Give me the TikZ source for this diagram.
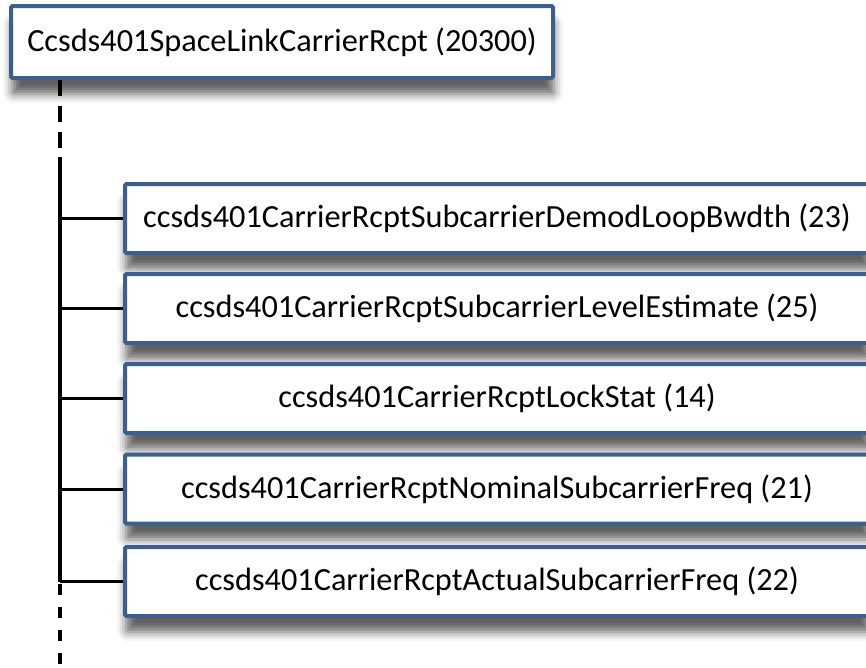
\documentclass[tikz,border=0pt]{standalone}
\usepackage{fontspec}
\setmainfont{Carlito}
\usetikzlibrary{shadows.blur}

\definecolor{boxblue}{HTML}{3B5F8E}

\tikzset{
  objbox/.style={draw=boxblue, line width=4pt, fill=white, rounded corners=1.5pt,
    inner sep=0pt, font=\fontsize{32.3}{38}\selectfont,
    blur shadow={shadow xshift=1pt, shadow yshift=-16pt, shadow blur radius=9pt, shadow opacity=62}},
  rootbox/.style={objbox, minimum width=542pt, minimum height=72pt},
  leafbox/.style={objbox, minimum width=744pt, minimum height=69pt},
  trunk/.style={line width=3.2pt, black},
  trunkdash/.style={trunk, dash pattern=on 16pt off 10pt},
  branch/.style={line width=3pt, black}
}

\begin{document}
\begin{tikzpicture}[x=1pt, y=-1pt]
  \useasboundingbox (0,0) rectangle (866,667);
  \clip (0,0) rectangle (866,667);

  % root object
  \node[rootbox] (root) at (282,42) {Ccsds401SpaceLinkCarrierRcpt (20300)};

  % child objects
  \node[leafbox] (c1) at (497,218.5) {ccsds401CarrierRcptSubcarrierDemodLoopBwdth (23)};
  \node[leafbox] (c2) at (497,308.5) {ccsds401CarrierRcptSubcarrierLevelEstimate (25)};
  \node[leafbox] (c3) at (497,398.5) {ccsds401CarrierRcptLockStat (14)};
  \node[leafbox] (c4) at (497,489) {ccsds401CarrierRcptNominalSubcarrierFreq (21)};
  \node[leafbox] (c5) at (497,581.5) {ccsds401CarrierRcptActualSubcarrierFreq (22)};

  % trunk coordinates
  \coordinate (t0) at (root.south -| 60,0);
  \coordinate (t1) at (60,153);
  \coordinate (t2) at (60,157);
  \coordinate (t3) at (c5.west -| 60,0);
  \coordinate (t4) at (60,584);
  \coordinate (t5) at (60,667);

  % trunk: dashed lead-in, solid spine, dashed continuation
  \draw[trunkdash] (t0) -- (t1);
  \draw[trunk] (t2) -- (t3);
  \draw[trunk, dash pattern=on 11pt off 12pt] (t4) -- (t5);

  % branches to each child
  \foreach \c in {c1,c2,c3,c4,c5}
    \draw[branch] (\c.west -| t2) -- (\c.west);
\end{tikzpicture}
\end{document}
